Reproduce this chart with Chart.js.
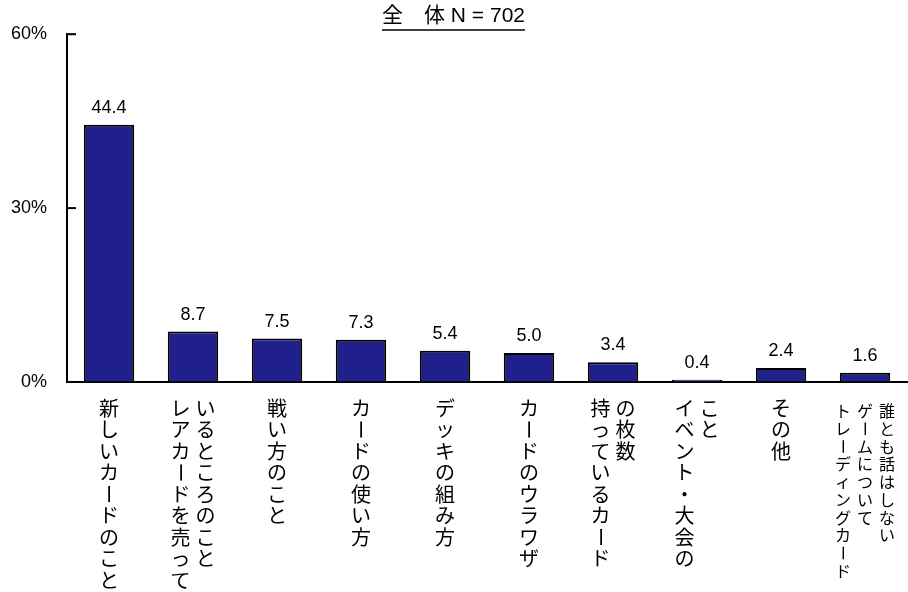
<!DOCTYPE html>
<html>
<head>
<meta charset="utf-8">
<script src="https://cdn.jsdelivr.net/npm/chart.js@4.4.0/dist/chart.umd.min.js"></script>
<style>
  body { margin: 0; background: #fff; }
</style>
</head>
<body>
<canvas id="chart_usage" width="908" height="592"></canvas>
<script>
// category labels, one entry per column (read left to right)
var categoryLines = [
    ['新しいカードのこと'],
    ['レアカードを売って', 'いるところのこと'],
    ['戦い方のこと'],
    ['カードの使い方'],
    ['デッキの組み方'],
    ['カードのウラワザ'],
    ['持っているカード', 'の枚数'],
    ['イベント・大会の', 'こと'],
    ['その他'],
    ['トレーディングカード', 'ゲームについて', '誰とも話はしない']
];
var values = [44.4, 8.7, 7.5, 7.3, 5.4, 5.0, 3.4, 0.4, 2.4, 1.6];
var yTicks = [0, 30, 60];
var titleText = '全　体 N = 702';

var latin = '"Liberation Sans", Arial, sans-serif';
var jp = '"Noto Sans CJK JP", sans-serif';
var titleFont = '"Liberation Sans", Arial, "Noto Sans CJK JP", sans-serif';

var drawExtras = {
    id: 'drawExtras',
    afterDraw: function (chart) {
        var ctx = chart.ctx;
        var xs = chart.scales.x;
        var ys = chart.scales.y;
        ctx.save();
        ctx.fillStyle = '#000';
        ctx.strokeStyle = '#000';

        // underline the title
        var tb = chart.titleBlock;
        ctx.font = '21px ' + titleFont;
        var w = ctx.measureText(titleText).width;
        var cx = (tb.left + tb.right) / 2;
        ctx.lineWidth = 1.5;
        ctx.beginPath();
        ctx.moveTo(cx - w / 2, 30);
        ctx.lineTo(cx + w / 2, 30);
        ctx.stroke();

        // inward tick marks on the y axis
        ctx.lineWidth = 2;
        yTicks.forEach(function (v) {
            if (v === 0) return;
            var py = ys.getPixelForValue(v);
            ctx.beginPath();
            ctx.moveTo(ys.right, py);
            ctx.lineTo(ys.right + 9, py);
            ctx.stroke();
        });

        // value labels above bars
        ctx.font = '18px ' + latin;
        ctx.textAlign = 'center';
        ctx.textBaseline = 'alphabetic';
        var meta = chart.getDatasetMeta(0);
        meta.data.forEach(function (bar, i) {
            ctx.fillText(values[i].toFixed(1), bar.x, bar.y - 12);
        });

        // vertical category labels
        ctx.textBaseline = 'middle';
        categoryLines.forEach(function (lines, i) {
            var center = xs.getPixelForValue(i);
            var small = lines.length > 2;
            var fs = small ? 16 : 20;
            var step = small ? 17.75 : 21.5;
            var gap = small ? 22 : 25;
            var startY = xs.top + (small ? 29 : 26);
            ctx.font = fs + 'px ' + jp;
            lines.forEach(function (line, j) {
                var colX = center + (j - (lines.length - 1) / 2) * gap;
                Array.from(line).forEach(function (ch, k) {
                    var cy = startY + k * step;
                    if (ch === 'ー') {
                        ctx.save();
                        ctx.translate(colX, cy);
                        ctx.rotate(Math.PI / 2);
                        ctx.fillText(ch, 0, 0);
                        ctx.restore();
                    } else {
                        ctx.fillText(ch, colX, cy);
                    }
                });
            });
        });
        ctx.restore();
    }
};

var ctxUsage = document.getElementById('chart_usage').getContext('2d');
var usageChart = new Chart(ctxUsage, {
    type: 'bar',
    data: {
        labels: categoryLines.map(function (l) { return l.join(''); }),
        datasets: [{
            data: values,
            backgroundColor: '#20208C',
            borderColor: '#000',
            borderWidth: 2,
            barPercentage: 0.6,
            categoryPercentage: 1.0
        }]
    },
    options: {
        responsive: false,
        animation: false,
        devicePixelRatio: 1,
        layout: { padding: { left: 0, right: 1, top: 0, bottom: 0 } },
        plugins: {
            legend: { display: false },
            tooltip: { enabled: false },
            title: {
                display: true,
                text: titleText,
                color: '#000',
                font: { size: 21, family: titleFont, weight: 'normal', lineHeight: 1.2 },
                padding: { top: 4, bottom: 5 }
            }
        },
        scales: {
            x: {
                grid: { display: false },
                border: { color: '#000', width: 2 },
                ticks: { display: false },
                afterFit: function (scale) { scale.height = 210; }
            },
            y: {
                min: 0,
                max: 60,
                afterBuildTicks: function (scale) {
                    scale.ticks = yTicks.map(function (v) { return { value: v }; });
                },
                grid: { drawOnChartArea: false, drawTicks: false },
                border: { color: '#000', width: 2 },
                ticks: {
                    color: '#000',
                    padding: 20,
                    font: { size: 18, family: latin },
                    callback: function (v) { return v + '%'; }
                },
                afterFit: function (scale) { scale.width = 67; }
            }
        }
    },
    plugins: [drawExtras]
});
</script>
</body>
</html>
